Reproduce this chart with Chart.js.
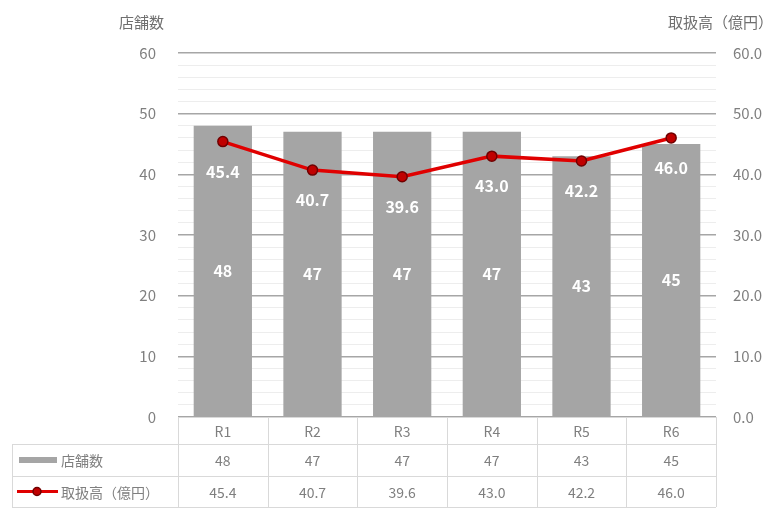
<!DOCTYPE html>
<html>
<head>
<meta charset="utf-8">
<script src="https://cdn.jsdelivr.net/npm/chart.js@4"></script>
<style>
  body { margin: 0; background: #fff; }
  #wrap { width: 775px; height: 510px; }
</style>
</head>
<body>
<div id="wrap"><canvas id="combo" width="775" height="510"></canvas></div>
<script>
var labels = ["R1", "R2", "R3", "R4", "R5", "R6"];
var stores = [48, 47, 47, 47, 43, 45];
var sales = [45.4, 40.7, 39.6, 43.0, 42.2, 46.0];
var storeName = "店舗数";
var salesName = "取扱高（億円）";

var FONT = "'Noto Sans CJK JP', 'Noto Sans', sans-serif";
var txtGray = "#7f7f7f";
var lineGray = "#d9d9d9";

function gridColor(ctx) {
  if (ctx.tick && ctx.tick.value % 10 === 0) return "#a6a6a6";
  return "#ededed";
}

// axis titles, value labels, data table
var extras = {
  id: "extras",
  afterDatasetsDraw: function(chart) {
    var c = chart.ctx;
    c.save();
    c.font = "bold 16px " + FONT;
    c.fillStyle = "#fff";
    c.textAlign = "center";
    c.textBaseline = "middle";
    var barMeta = chart.getDatasetMeta(0);
    barMeta.data.forEach(function(b, i) {
      c.fillText(String(stores[i]), b.x, (b.y + b.base) / 2);
    });
    var lineMeta = chart.getDatasetMeta(1);
    lineMeta.data.forEach(function(p, i) {
      c.fillText(sales[i].toFixed(1), p.x, p.y + 30);
    });
    c.restore();
  },
  afterDraw: function(chart) {
    var c = chart.ctx;
    var area = chart.chartArea;
    var x = chart.scales.x;
    c.save();
    // titles
    c.font = "15px " + FONT;
    c.fillStyle = "#6f6f6f";
    c.textBaseline = "middle";
    c.textAlign = "right";
    c.fillText(storeName, 164, 22);
    c.fillText(salesName, 773, 22);

    // table
    var step = (area.right - area.left) / labels.length;
    var rows = [area.bottom, 444, 476, 507];
    var left = 12;
    c.strokeStyle = lineGray;
    c.lineWidth = 1;
    c.beginPath();
    c.moveTo(area.left, rows[0] + 0.5); c.lineTo(area.right, rows[0] + 0.5);
    for (var r = 1; r < rows.length; r++) {
      c.moveTo(left, rows[r] + 0.5); c.lineTo(area.right, rows[r] + 0.5);
    }
    c.moveTo(left + 0.5, rows[1]); c.lineTo(left + 0.5, rows[3]);
    for (var k = 0; k <= labels.length; k++) {
      var vx = Math.round(area.left + k * step) + 0.5;
      c.moveTo(vx, rows[0]); c.lineTo(vx, rows[3]);
    }
    c.stroke();

    c.font = "14px " + FONT;
    c.fillStyle = txtGray;
    c.textAlign = "center";
    labels.forEach(function(l, i) {
      var cx = x.getPixelForValue(i);
      c.fillText(l, cx, (rows[0] + rows[1]) / 2 + 1);
      c.fillText(String(stores[i]), cx, (rows[1] + rows[2]) / 2 + 1);
      c.fillText(sales[i].toFixed(1), cx, (rows[2] + rows[3]) / 2 + 1);
    });

    // legend keys
    var y2 = (rows[1] + rows[2]) / 2, y3 = (rows[2] + rows[3]) / 2;
    c.fillStyle = "#a5a5a5";
    c.fillRect(19, y2 - 3, 38, 6);
    c.strokeStyle = "#e00000";
    c.lineWidth = 3;
    c.beginPath(); c.moveTo(17, y3); c.lineTo(58, y3); c.stroke();
    c.beginPath(); c.arc(37, y3, 4, 0, Math.PI * 2);
    c.fillStyle = "#c00000"; c.fill();
    c.lineWidth = 1.5; c.strokeStyle = "#700000"; c.stroke();
    c.textAlign = "left";
    c.fillStyle = txtGray;
    c.font = "14px " + FONT;
    c.fillText(storeName, 61, y2 + 1);
    c.fillText(salesName, 61, y3 + 1);
    c.restore();
  }
};

new Chart(document.getElementById("combo"), {
  data: {
    labels: labels,
    datasets: [{
      type: "bar",
      label: storeName,
      data: stores,
      yAxisID: "y",
      backgroundColor: "#a5a5a5",
      barPercentage: 0.65,
      categoryPercentage: 1,
      order: 2
    }, {
      type: "line",
      label: salesName,
      data: sales,
      yAxisID: "y2",
      borderColor: "#e00000",
      borderWidth: 3.5,
      pointRadius: 5,
      pointBackgroundColor: "#c00000",
      pointBorderColor: "#700000",
      pointBorderWidth: 1.5,
      tension: 0,
      order: 1
    }]
  },
  options: {
    responsive: false,
    animation: false,
    layout: { padding: { top: 53, bottom: 93, left: 0, right: 0 } },
    plugins: { legend: { display: false }, tooltip: { enabled: false } },
    scales: {
      x: { display: false, offset: true },
      y: {
        position: "left",
        min: 0, max: 60,
        afterFit: function(s) { s.width = 178; },
        border: { display: false },
        grid: { color: gridColor, lineWidth: function(ctx) { return ctx.tick.value % 10 === 0 ? 1.5 : 1; }, drawTicks: false },
        ticks: {
          stepSize: 2, autoSkip: false, padding: 22,
          color: txtGray, font: { family: FONT, size: 15 },
          callback: function(v) { return v % 10 === 0 ? String(v) : ""; }
        }
      },
      y2: {
        position: "right",
        min: 0, max: 60,
        afterFit: function(s) { s.width = 59; },
        border: { display: false },
        grid: { display: false },
        ticks: {
          stepSize: 2, autoSkip: false, padding: 9,
          color: txtGray, font: { family: FONT, size: 15 },
          callback: function(v) { return v % 10 === 0 ? v.toFixed(1) : ""; }
        }
      }
    }
  },
  plugins: [extras]
});
</script>
</body>
</html>
